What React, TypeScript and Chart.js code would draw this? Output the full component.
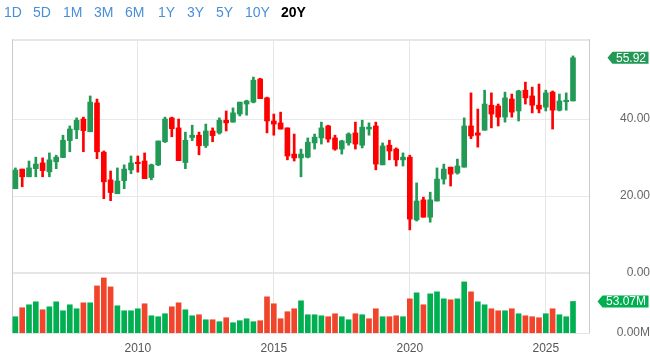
import React, { useEffect, useRef } from 'react';
import { Chart, registerables } from 'chart.js';

Chart.register(...registerables);

// ---- categories: quarterly slots, Q3 2005 .. Q3 2026 (last two are empty) ----
const firstYear = 2005;
const firstQuarter = 3;
const slotCount = 85;
const quarters: string[] = [];
for (let i = 0; i < slotCount; i++) {
  const q = firstQuarter - 1 + i;
  quarters.push(`${firstYear + Math.floor(q / 4)} Q${(q % 4) + 1}`);
}
const yearTickLabels = ['2010', '2015', '2020', '2025'];
const rangeTabs = ['1D', '5D', '1M', '3M', '6M', '1Y', '3Y', '5Y', '10Y', '20Y'];
const activeTab = '20Y';

// ---- OHLC (quarterly) ----
const opens = [
  21.9, 27.0, 25.0, 27.1, 28.6, 26.3, 28.9, 30.0, 34.4, 37.2,
  40.0, 36.7, 44.2, 31.4, 24.2, 20.6, 24.0, 26.8, 28.6, 29.1,
  24.8, 28.1, 34.1, 40.3, 37.7, 28.7, 35.2, 35.8, 33.1, 36.9,
  36.4, 39.7, 39.2, 41.3, 43.9, 44.4, 50.4, 45.5, 39.5, 39.0,
  37.7, 30.9, 29.9, 30.1, 33.8, 35.1, 38.2, 35.1, 32.2, 33.8,
  36.4, 33.2, 37.4, 38.2, 28.1, 33.2, 32.2, 29.4, 30.1, 13.8,
  19.0, 14.5, 18.7, 24.4, 27.5, 26.0, 27.5, 38.2, 36.4, 37.1,
  43.6, 43.4, 40.5, 45.2, 42.1, 47.5, 46.0, 43.6, 43.1, 47.0,
  42.3, 44.5, 44.7,
];
const highs = [
  27.3, 27.0, 29.1, 30.1, 29.9, 31.2, 30.6, 35.8, 38.2, 40.3,
  40.5, 46.0, 45.2, 31.7, 26.5, 27.3, 28.1, 30.4, 30.4, 31.2,
  28.3, 34.3, 40.5, 40.5, 40.0, 36.6, 38.4, 36.6, 38.7, 37.7,
  40.3, 42.1, 42.9, 44.4, 44.9, 50.9, 50.6, 45.7, 41.3, 41.8,
  37.7, 36.1, 32.2, 35.1, 36.1, 39.2, 38.4, 35.8, 34.5, 36.4,
  39.2, 39.7, 39.0, 39.2, 33.8, 34.5, 32.5, 31.2, 30.6, 23.4,
  19.7, 21.0, 27.3, 28.3, 27.5, 29.6, 40.3, 46.8, 42.6, 47.5,
  46.8, 43.9, 47.0, 46.5, 47.5, 49.6, 48.3, 49.1, 47.5, 47.3,
  46.5, 46.8, 56.4,
];
const lows = [
  21.9, 22.4, 25.0, 25.0, 25.0, 25.0, 27.1, 30.0, 31.5, 34.9,
  31.5, 36.7, 29.7, 19.3, 18.8, 20.6, 21.9, 25.8, 26.2, 24.5,
  24.2, 27.9, 33.9, 35.4, 29.2, 27.1, 34.4, 30.7, 32.6, 34.1,
  36.1, 36.9, 39.2, 40.8, 41.0, 44.2, 45.3, 36.4, 35.8, 37.4,
  29.4, 29.1, 25.0, 29.9, 32.2, 33.5, 34.0, 31.9, 30.9, 33.2,
  32.2, 32.5, 35.8, 26.8, 28.1, 29.4, 27.8, 27.8, 11.2, 13.5,
  14.5, 13.2, 18.7, 23.1, 22.6, 25.7, 27.5, 34.9, 32.7, 37.1,
  37.7, 38.2, 39.2, 40.5, 39.5, 43.9, 41.6, 41.6, 42.1, 37.4,
  42.1, 42.3, 44.7,
];
const closes = [
  26.75, 25.0, 27.3, 28.3, 26.6, 29.4, 30.1, 34.5, 37.4, 39.7,
  37.0, 44.4, 31.5, 23.7, 20.9, 23.9, 27.0, 28.6, 28.4, 24.5,
  28.1, 34.3, 40.0, 37.5, 29.2, 34.5, 35.8, 33.1, 36.9, 35.7,
  39.7, 39.0, 41.6, 44.4, 44.7, 50.1, 45.3, 39.5, 38.7, 37.4,
  30.4, 29.9, 30.9, 34.0, 35.3, 37.7, 34.8, 32.2, 34.3, 36.1,
  33.5, 37.9, 37.9, 28.3, 33.0, 31.7, 29.4, 30.1, 14.0, 18.7,
  14.5, 19.0, 24.4, 27.0, 25.7, 27.8, 38.2, 35.6, 35.8, 43.9,
  41.3, 40.5, 45.5, 41.8, 47.3, 45.5, 43.6, 42.6, 46.8, 42.3,
  44.7, 44.9, 55.92,
];

// ---- volume (millions) and its colour direction (1 = up/green, 0 = down/red) ----
const volumes = [
  27.4, 42.5, 47.5, 52.5, 39.1, 44.1, 52.5, 37.4, 47.5, 40.8,
  50.8, 50.8, 79.3, 92.7, 77.6, 45.8, 37.4, 37.4, 40.8, 49.2,
  29.0, 27.4, 32.4, 44.1, 50.8, 39.1, 29.0, 30.7, 22.3, 22.3,
  19.0, 25.7, 17.3, 20.7, 24.0, 19.0, 20.7, 60.9, 49.2, 24.0,
  35.8, 40.8, 54.2, 30.7, 30.7, 29.0, 27.4, 32.4, 27.4, 22.3,
  32.4, 30.7, 24.0, 40.8, 27.4, 27.4, 29.0, 27.4, 57.5, 67.6,
  47.5, 65.9, 69.3, 57.5, 55.9, 57.5, 86.0, 69.3, 52.5, 47.5,
  40.8, 37.4, 37.4, 40.8, 32.4, 29.0, 27.4, 25.7, 32.4, 40.8,
  30.7, 27.4, 53.07,
];
const volumeUp = [
  1, 0, 1, 1, 0, 1, 1, 1, 1, 1,
  0, 1, 0, 0, 0, 1, 1, 1, 1, 0,
  1, 1, 1, 0, 0, 1, 1, 0, 1, 0,
  1, 0, 1, 1, 1, 1, 0, 0, 0, 0,
  0, 0, 1, 1, 1, 1, 0, 0, 1, 1,
  0, 1, 0, 0, 1, 0, 0, 1, 0, 1,
  0, 1, 1, 1, 0, 1, 1, 0, 1, 1,
  0, 0, 1, 0, 1, 0, 0, 0, 1, 0,
  1, 1, 1,
];

const priceTicks = [0, 20, 40];
const volumeTicks = [0];
const priceMax = 60.8;
const volumeMax = 101;

const FONT = 'Arial, "Liberation Sans", sans-serif';
const CANDLE_UP = '#229a56';
const CANDLE_DOWN = '#ff0000';
const VOL_UP = '#00b050';
const VOL_DOWN = '#f0452a';

function drawTag(ctx: CanvasRenderingContext2D, text: string, y: number, color: string, rightX: number) {
  ctx.save();
  ctx.font = `12px ${FONT}`;
  const w = ctx.measureText(text).width;
  const right = rightX + 3;
  const left = rightX - w - 3;
  const h = 12;
  ctx.fillStyle = color;
  ctx.beginPath();
  ctx.moveTo(left - 5, y);
  ctx.lineTo(left, y - h / 2);
  ctx.lineTo(right, y - h / 2);
  ctx.lineTo(right, y + h / 2);
  ctx.lineTo(left, y + h / 2);
  ctx.closePath();
  ctx.fill();
  ctx.fillStyle = '#ffffff';
  ctx.textAlign = 'right';
  ctx.textBaseline = 'middle';
  ctx.fillText(text, rightX + 0.5, y + 0.5);
  ctx.restore();
}

const framePlugin = {
  id: 'frame',
  beforeDatasetsDraw(chart: any) {
    const { ctx, chartArea } = chart;
    const yPrice = chart.scales.y;
    ctx.save();
    ctx.strokeStyle = '#e6e6e6';
    ctx.lineWidth = 2;
    ctx.beginPath();
    ctx.moveTo(chartArea.left, chartArea.top + 1);
    ctx.lineTo(chartArea.right, chartArea.top + 1);
    ctx.moveTo(chartArea.left, yPrice.bottom);
    ctx.lineTo(chartArea.right, yPrice.bottom);
    ctx.stroke();
    ctx.lineWidth = 1;
    ctx.strokeStyle = '#e4e4e4';
    ctx.beginPath();
    ctx.moveTo(chartArea.left, chartArea.bottom + 0.5);
    ctx.lineTo(chartArea.right, chartArea.bottom + 0.5);
    ctx.stroke();
    ctx.strokeStyle = '#cccccc';
    ctx.lineWidth = 1;
    ctx.beginPath();
    ctx.moveTo(chartArea.left + 0.5, chartArea.top);
    ctx.lineTo(chartArea.left + 0.5, chartArea.bottom);
    ctx.moveTo(chartArea.right - 0.5, chartArea.top);
    ctx.lineTo(chartArea.right - 0.5, chartArea.bottom);
    ctx.stroke();
    ctx.restore();
  },
  afterDraw(chart: any) {
    const { ctx } = chart;
    const last = closes.length - 1;
    const yP = chart.scales.y.getPixelForValue(closes[last]);
    drawTag(ctx, closes[last].toFixed(2), yP, CANDLE_UP, 645.5);
    const yV = chart.scales.yv.getPixelForValue(volumes[last]);
    drawTag(ctx, volumes[last].toFixed(2) + 'M', yV, VOL_UP, 645.5);
  },
};

export default function App() {
  const canvasRef = useRef<HTMLCanvasElement | null>(null);

  useEffect(() => {
    const canvas = canvasRef.current;
    if (!canvas) return;
    const candleColors = opens.map((o, i) => (closes[i] >= o ? CANDLE_UP : CANDLE_DOWN));
    const volColors = volumeUp.map((u) => (u ? VOL_UP : VOL_DOWN));
    const isYearTick = (index: number) => {
      const l = quarters[index];
      return !!l && l.endsWith('Q1') && yearTickLabels.includes(l.slice(0, 4));
    };

    const chart = new Chart(canvas, {
      type: 'bar',
      data: {
        labels: quarters,
        datasets: [
          {
            label: 'body',
            data: opens.map((o, i) => [o, closes[i]]) as any,
            backgroundColor: candleColors,
            barThickness: 5,
            minBarLength: 1.5,
            grouped: false,
            yAxisID: 'y',
            order: 1,
          } as any,
          {
            label: 'wick',
            data: lows.map((l, i) => [l, highs[i]]) as any,
            backgroundColor: candleColors,
            barThickness: 2,
            grouped: false,
            yAxisID: 'y',
            order: 2,
          } as any,
          {
            label: 'volume',
            data: volumes,
            backgroundColor: volColors,
            barThickness: 5,
            grouped: false,
            yAxisID: 'yv',
            order: 3,
          } as any,
        ],
      },
      options: {
        responsive: false,
        animation: false,
        devicePixelRatio: 1,
        layout: { autoPadding: false, padding: { left: 12, top: 39, right: 0, bottom: 0 } },
        plugins: { legend: { display: false }, tooltip: { enabled: false } },
        scales: {
          x: {
            type: 'category',
            offset: true,
            grid: {
              offset: false,
              drawTicks: false,
              lineWidth: 1,
              color: (c: any) => (isYearTick(c.index) ? '#e6e6e6' : 'rgba(0,0,0,0)'),
            },
            border: { display: false },
            ticks: {
              autoSkip: false,
              maxRotation: 0,
              minRotation: 0,
              padding: 8,
              color: '#555555',
              font: { size: 12, family: FONT },
              callback: function (this: any, value: any, index: number) {
                return isYearTick(index) ? quarters[index].slice(0, 4) : '';
              },
            },
            afterFit: (s: any) => {
              s.height = 21;
            },
          },
          y: {
            type: 'linear',
            position: 'right',
            stack: 'panes',
            stackWeight: 234,
            min: 0,
            max: priceMax,
            afterBuildTicks: (s: any) => {
              s.ticks = priceTicks.map((v) => ({ value: v }));
            },
            grid: { color: '#e9e9e9', drawTicks: false, lineWidth: 1 },
            border: { display: false },
            ticks: {
              crossAlign: 'far',
              padding: 26,
              color: '#666666',
              font: { size: 12, family: FONT },
              callback: (v: any) => Number(v).toFixed(2),
            },
            afterFit: (s: any) => {
              s.width = 60;
              s.paddingTop = 0;
              s.paddingBottom = 0;
            },
          },
          yv: {
            type: 'linear',
            position: 'right',
            stack: 'panes',
            stackWeight: 60,
            min: 0,
            max: volumeMax,
            afterBuildTicks: (s: any) => {
              s.ticks = volumeTicks.map((v) => ({ value: v }));
            },
            grid: { display: false, drawTicks: false },
            border: { display: false },
            ticks: {
              crossAlign: 'far',
              padding: 22,
              color: '#666666',
              font: { size: 12, family: FONT },
              callback: (v: any) => Number(v).toFixed(2) + 'M',
            },
            afterFit: (s: any) => {
              s.width = 60;
              s.paddingTop = 0;
              s.paddingBottom = 0;
            },
          },
        } as any,
      },
      plugins: [framePlugin],
    });
    return () => chart.destroy();
  }, []);

  const tabLeft = [4, 33, 63, 94, 125, 158, 187, 216, 245, 281];

  return (
    <div style={{ position: 'fixed', left: 0, top: 0, width: 650, height: 354, background: '#ffffff' }}>
      <canvas ref={canvasRef} width={650} height={354} style={{ position: 'absolute', left: 0, top: 0 }} />
      {rangeTabs.map((t, i) => (
        <span
          key={t}
          style={{
            position: 'absolute',
            left: tabLeft[i],
            top: 4,
            lineHeight: '16px',
            fontSize: 14,
            fontFamily: FONT,
            fontWeight: t === activeTab ? 'bold' : 'normal',
            color: t === activeTab ? '#000000' : '#4a8fd6',
            whiteSpace: 'nowrap',
          }}
        >
          {t}
        </span>
      ))}
    </div>
  );
}
